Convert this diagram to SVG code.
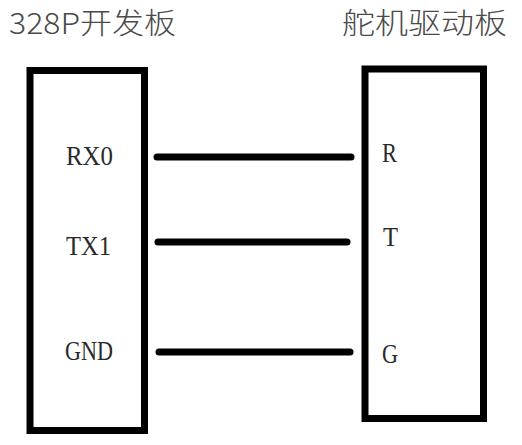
<svg xmlns="http://www.w3.org/2000/svg" width="522" height="445" viewBox="0 0 522 445">
<style>
.box{fill:none;stroke:#000;stroke-width:7}
.wire{stroke:#000;stroke-width:7;stroke-linecap:round}
.title{font-family:"Noto Sans CJK SC","Noto Sans",sans-serif;font-size:29px;font-weight:300;fill:#4a4a4a}
.pin{font-family:"Liberation Serif",serif;font-size:28px;fill:#2a2a2a}
</style>
<rect width="522" height="445" fill="#fff"/>
<g id="board328p">
<text class="title" x="9" y="34" textLength="167" lengthAdjust="spacingAndGlyphs">328P开发板</text>
<rect class="box" x="30" y="70.5" width="114.5" height="360"/>
<text class="pin" x="66" y="165" textLength="47" lengthAdjust="spacingAndGlyphs">RX0</text>
<text class="pin" x="66" y="255" textLength="45" lengthAdjust="spacingAndGlyphs">TX1</text>
<text class="pin" x="65" y="360" textLength="48" lengthAdjust="spacingAndGlyphs">GND</text>
</g>
<g id="servoboard">
<text class="title" x="342" y="34" textLength="165" lengthAdjust="spacingAndGlyphs">舵机驱动板</text>
<rect class="box" x="365" y="69" width="118.5" height="349.5"/>
<text class="pin" x="382" y="162" textLength="15" lengthAdjust="spacingAndGlyphs">R</text>
<text class="pin" x="383" y="246" textLength="15" lengthAdjust="spacingAndGlyphs">T</text>
<text class="pin" x="382" y="363" textLength="16" lengthAdjust="spacingAndGlyphs">G</text>
</g>
<g id="connectors">
<line class="wire" x1="157" y1="157" x2="351" y2="157"/>
<line class="wire" x1="158" y1="242" x2="347" y2="242"/>
<line class="wire" x1="159" y1="352" x2="350" y2="352"/>
</g>
</svg>
